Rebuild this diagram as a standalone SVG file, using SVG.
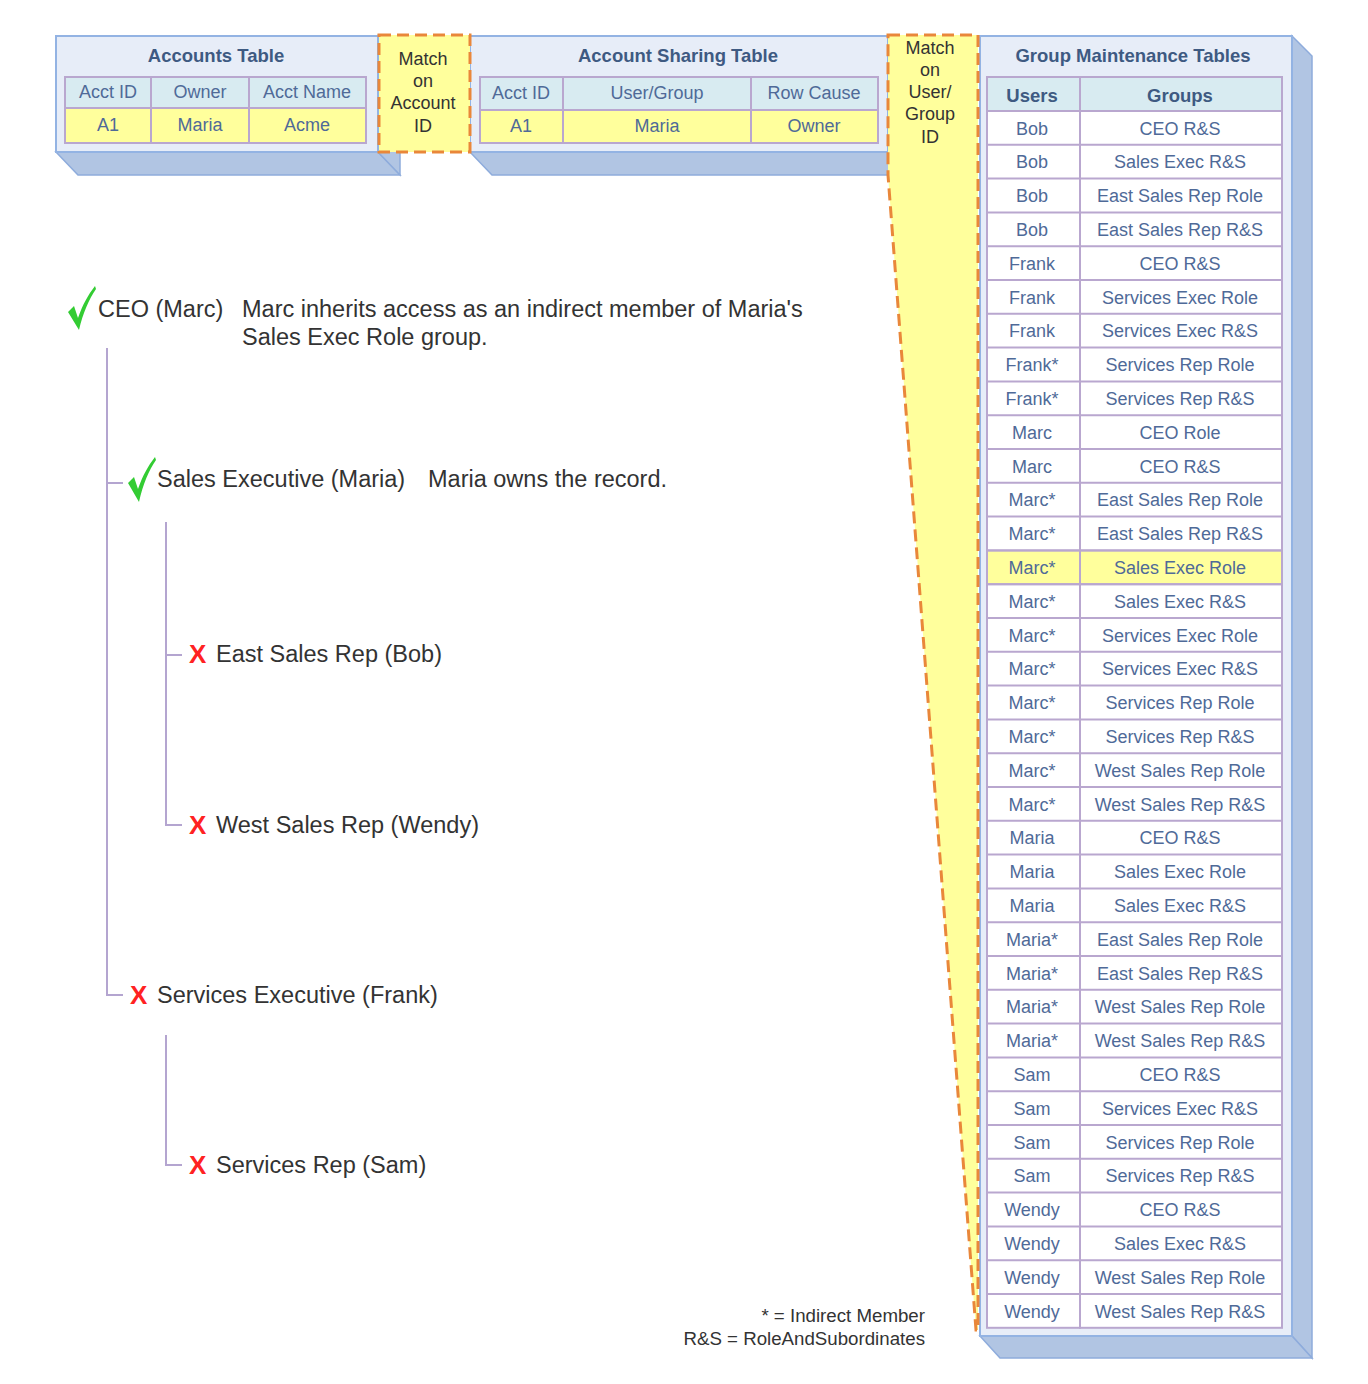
<svg xmlns="http://www.w3.org/2000/svg" width="1368" height="1384" viewBox="0 0 1368 1384">
<style>
text{font-family:"Liberation Sans",Arial,sans-serif}
.panel{fill:#e7edf8;stroke:#93b3e3;stroke-width:2}
.face{fill:#b1c5e3;stroke:#8eacdc;stroke-width:1.5}
.title{font-size:18.5px;font-weight:bold;fill:#3e5a82;text-anchor:middle}
.hd{fill:#d8ebf1;stroke:#b9a7cf;stroke-width:2}
.yc{fill:#ffff9c;stroke:#b9a7cf;stroke-width:2}
.wc{fill:#ffffff;stroke:#b9a7cf;stroke-width:2}
.ct{font-size:18px;fill:#4f6a98;text-anchor:middle}
.cb{font-size:18.5px;font-weight:bold;fill:#3e5a82;text-anchor:middle}
.match{fill:#ffff9c;stroke:#e9873a;stroke-width:3;stroke-dasharray:12 6}
.mt{font-size:18px;fill:#333;text-anchor:middle}
.tree{fill:none;stroke:#b4a5d0;stroke-width:2}
.tt{font-size:23.5px;fill:#333}
.ok{fill:#33cc33}
.no{font-size:26px;font-weight:bold;fill:#ff2222}
.lg{font-size:18.7px;fill:#333;text-anchor:end}
</style>
<rect width="1368" height="1384" fill="#ffffff"/>

<g id="accounts-table">
<polygon class="face" points="56,152 378,152 400,175 78,175"/>
<polygon class="face" points="378,36 400,58 400,175 378,152"/>
<rect class="panel" x="56" y="36" width="322" height="116"/>
<text class="title" x="216" y="62">Accounts Table</text>
<rect class="hd" x="65" y="77" width="86" height="31"/>
<rect class="hd" x="151" y="77" width="98" height="31"/>
<rect class="hd" x="249" y="77" width="117" height="31"/>
<rect class="yc" x="65" y="108" width="86" height="35"/>
<rect class="yc" x="151" y="108" width="98" height="35"/>
<rect class="yc" x="249" y="108" width="117" height="35"/>
<text class="ct" x="108" y="98">Acct ID</text>
<text class="ct" x="200" y="98">Owner</text>
<text class="ct" x="307" y="98">Acct Name</text>
<text class="ct" x="108" y="131">A1</text>
<text class="ct" x="200" y="131">Maria</text>
<text class="ct" x="307" y="131">Acme</text>
</g>

<g id="account-sharing-table">
<polygon class="face" points="470,152 900,152 900,175 492,175"/>
<rect class="panel" x="470" y="36" width="418" height="116"/>
<text class="title" x="678" y="62">Account Sharing Table</text>
<rect class="hd" x="480" y="77" width="83" height="33"/>
<rect class="hd" x="563" y="77" width="188" height="33"/>
<rect class="hd" x="751" y="77" width="127" height="33"/>
<rect class="yc" x="480" y="110" width="83" height="33"/>
<rect class="yc" x="563" y="110" width="188" height="33"/>
<rect class="yc" x="751" y="110" width="127" height="33"/>
<text class="ct" x="521" y="99">Acct ID</text>
<text class="ct" x="657" y="99">User/Group</text>
<text class="ct" x="814" y="99">Row Cause</text>
<text class="ct" x="521" y="132">A1</text>
<text class="ct" x="657" y="132">Maria</text>
<text class="ct" x="814" y="132">Owner</text>
</g>

<g id="group-maintenance-tables">
<polygon class="face" points="1292,36 1312,56 1312,1358 1292,1336"/>
<polygon class="face" points="980,1336 1292,1336 1312,1358 1000,1358"/>
<rect class="panel" x="980" y="36" width="312" height="1300"/>
<text class="title" x="1133" y="62">Group Maintenance Tables</text>
<rect class="hd" x="987" y="77" width="93" height="34"/>
<rect class="hd" x="1080" y="77" width="202" height="34"/>
<text class="cb" x="1032" y="102">Users</text>
<text class="cb" x="1180" y="102">Groups</text>
<g id="gm-rows">
<rect class="wc" x="987" y="111" width="93" height="1216.8"/>
<rect class="wc" x="1080" y="111" width="202" height="1216.8"/>
<rect class="yc" x="987" y="550.4" width="93" height="33.8"/>
<rect class="yc" x="1080" y="550.4" width="202" height="33.8"/>
<path d="M987,144.8H1282M987,178.6H1282M987,212.4H1282M987,246.2H1282M987,280H1282M987,313.8H1282M987,347.6H1282M987,381.4H1282M987,415.2H1282M987,449H1282M987,482.8H1282M987,516.6H1282M987,550.4H1282M987,584.2H1282M987,618H1282M987,651.8H1282M987,685.6H1282M987,719.4H1282M987,753.2H1282M987,787H1282M987,820.8H1282M987,854.6H1282M987,888.4H1282M987,922.2H1282M987,956H1282M987,989.8H1282M987,1023.6H1282M987,1057.4H1282M987,1091.2H1282M987,1125H1282M987,1158.8H1282M987,1192.6H1282M987,1226.4H1282M987,1260.2H1282M987,1294H1282" stroke="#b9a7cf" stroke-width="2" fill="none"/>
</g>
<g class="ct">
<text class="ct" x="1032" y="134.5">Bob</text><text class="ct" x="1180" y="134.5">CEO R&amp;S</text>
<text class="ct" x="1032" y="168.3">Bob</text><text class="ct" x="1180" y="168.3">Sales Exec R&amp;S</text>
<text class="ct" x="1032" y="202.1">Bob</text><text class="ct" x="1180" y="202.1">East Sales Rep Role</text>
<text class="ct" x="1032" y="235.9">Bob</text><text class="ct" x="1180" y="235.9">East Sales Rep R&amp;S</text>
<text class="ct" x="1032" y="269.7">Frank</text><text class="ct" x="1180" y="269.7">CEO R&amp;S</text>
<text class="ct" x="1032" y="303.5">Frank</text><text class="ct" x="1180" y="303.5">Services Exec Role</text>
<text class="ct" x="1032" y="337.3">Frank</text><text class="ct" x="1180" y="337.3">Services Exec R&amp;S</text>
<text class="ct" x="1032" y="371.1">Frank*</text><text class="ct" x="1180" y="371.1">Services Rep Role</text>
<text class="ct" x="1032" y="404.9">Frank*</text><text class="ct" x="1180" y="404.9">Services Rep R&amp;S</text>
<text class="ct" x="1032" y="438.7">Marc</text><text class="ct" x="1180" y="438.7">CEO Role</text>
<text class="ct" x="1032" y="472.5">Marc</text><text class="ct" x="1180" y="472.5">CEO R&amp;S</text>
<text class="ct" x="1032" y="506.3">Marc*</text><text class="ct" x="1180" y="506.3">East Sales Rep Role</text>
<text class="ct" x="1032" y="540.1">Marc*</text><text class="ct" x="1180" y="540.1">East Sales Rep R&amp;S</text>
<text class="ct" x="1032" y="573.9">Marc*</text><text class="ct" x="1180" y="573.9">Sales Exec Role</text>
<text class="ct" x="1032" y="607.7">Marc*</text><text class="ct" x="1180" y="607.7">Sales Exec R&amp;S</text>
<text class="ct" x="1032" y="641.5">Marc*</text><text class="ct" x="1180" y="641.5">Services Exec Role</text>
<text class="ct" x="1032" y="675.3">Marc*</text><text class="ct" x="1180" y="675.3">Services Exec R&amp;S</text>
<text class="ct" x="1032" y="709.1">Marc*</text><text class="ct" x="1180" y="709.1">Services Rep Role</text>
<text class="ct" x="1032" y="742.9">Marc*</text><text class="ct" x="1180" y="742.9">Services Rep R&amp;S</text>
<text class="ct" x="1032" y="776.7">Marc*</text><text class="ct" x="1180" y="776.7">West Sales Rep Role</text>
<text class="ct" x="1032" y="810.5">Marc*</text><text class="ct" x="1180" y="810.5">West Sales Rep R&amp;S</text>
<text class="ct" x="1032" y="844.3">Maria</text><text class="ct" x="1180" y="844.3">CEO R&amp;S</text>
<text class="ct" x="1032" y="878.1">Maria</text><text class="ct" x="1180" y="878.1">Sales Exec Role</text>
<text class="ct" x="1032" y="911.9">Maria</text><text class="ct" x="1180" y="911.9">Sales Exec R&amp;S</text>
<text class="ct" x="1032" y="945.7">Maria*</text><text class="ct" x="1180" y="945.7">East Sales Rep Role</text>
<text class="ct" x="1032" y="979.5">Maria*</text><text class="ct" x="1180" y="979.5">East Sales Rep R&amp;S</text>
<text class="ct" x="1032" y="1013.3">Maria*</text><text class="ct" x="1180" y="1013.3">West Sales Rep Role</text>
<text class="ct" x="1032" y="1047.1">Maria*</text><text class="ct" x="1180" y="1047.1">West Sales Rep R&amp;S</text>
<text class="ct" x="1032" y="1080.9">Sam</text><text class="ct" x="1180" y="1080.9">CEO R&amp;S</text>
<text class="ct" x="1032" y="1114.7">Sam</text><text class="ct" x="1180" y="1114.7">Services Exec R&amp;S</text>
<text class="ct" x="1032" y="1148.5">Sam</text><text class="ct" x="1180" y="1148.5">Services Rep Role</text>
<text class="ct" x="1032" y="1182.3">Sam</text><text class="ct" x="1180" y="1182.3">Services Rep R&amp;S</text>
<text class="ct" x="1032" y="1216.1">Wendy</text><text class="ct" x="1180" y="1216.1">CEO R&amp;S</text>
<text class="ct" x="1032" y="1249.9">Wendy</text><text class="ct" x="1180" y="1249.9">Sales Exec R&amp;S</text>
<text class="ct" x="1032" y="1283.7">Wendy</text><text class="ct" x="1180" y="1283.7">West Sales Rep Role</text>
<text class="ct" x="1032" y="1317.5">Wendy</text><text class="ct" x="1180" y="1317.5">West Sales Rep R&amp;S</text>
</g>
</g>

<g id="match-account-id">
<rect class="match" x="379" y="35" width="91" height="117"/>
<text class="mt" x="423" y="65">Match</text>
<text class="mt" x="423" y="87">on</text>
<text class="mt" x="423" y="109">Account</text>
<text class="mt" x="423" y="132">ID</text>
</g>

<g id="match-user-group-id">
<path class="match" d="M888,35 L978,35 L978,1330 L976,1330 L888,175 Z"/>
<text class="mt" x="930" y="54">Match</text>
<text class="mt" x="930" y="76">on</text>
<text class="mt" x="930" y="98">User/</text>
<text class="mt" x="930" y="120">Group</text>
<text class="mt" x="930" y="143">ID</text>
</g>

<g id="connectors">
<path class="tree" d="M107,348 V995 H123 M107,483 H123"/>
<path class="tree" d="M166,522 V825 H182 M166,655 H182"/>
<path class="tree" d="M166,1035 V1165 H182"/>
</g>

<g id="node-ceo">
<path class="ok" d="M68,312 L74,306 L78,318 C83,304 88,295 95,286 L96,289 C89,299 83,313 79,330 Z"/>
<text class="tt" x="98" y="317">CEO (Marc)</text>
<text class="tt" x="242" y="317">Marc inherits access as an indirect member of Maria's</text>
<text class="tt" x="242" y="345">Sales Exec Role group.</text>
</g>

<g id="node-sales-exec">
<path class="ok" d="M128,483 L134,477 L138,489 C143,475 148,466 155,457 L156,460 C149,470 143,484 139,502 Z"/>
<text class="tt" x="157" y="487">Sales Executive (Maria)</text>
<text class="tt" x="428" y="487">Maria owns the record.</text>
</g>

<g id="node-east-sales-rep">
<text class="no" x="189" y="663">X</text>
<text class="tt" x="216" y="662">East Sales Rep (Bob)</text>
</g>

<g id="node-west-sales-rep">
<text class="no" x="189" y="834">X</text>
<text class="tt" x="216" y="833">West Sales Rep (Wendy)</text>
</g>

<g id="node-services-exec">
<text class="no" x="130" y="1004">X</text>
<text class="tt" x="157" y="1003">Services Executive (Frank)</text>
</g>

<g id="node-services-rep">
<text class="no" x="189" y="1174">X</text>
<text class="tt" x="216" y="1173">Services Rep (Sam)</text>
</g>

<g id="legend">
<text class="lg" x="925" y="1322">* = Indirect Member</text>
<text class="lg" x="925" y="1345">R&amp;S = RoleAndSubordinates</text>
</g>
</svg>
